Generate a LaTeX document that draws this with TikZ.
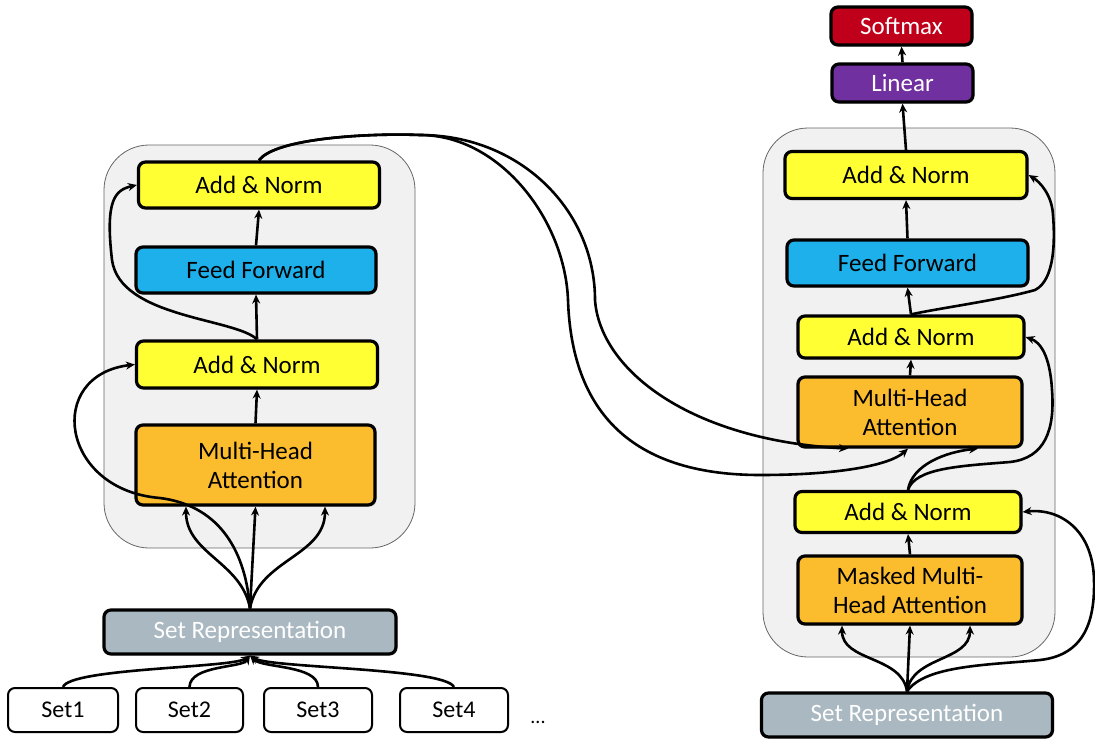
\documentclass[tikz,border=0pt]{standalone}
\usepackage{fontspec}
\setmainfont{Carlito}
\usetikzlibrary{arrows.meta,shadows,calc}

\definecolor{normyellow}{HTML}{FFFF33}
\definecolor{ffblue}{HTML}{1DB0EA}
\definecolor{attorange}{HTML}{FBBC2E}
\definecolor{repgray}{HTML}{AAB9C1}
\definecolor{smred}{HTML}{C0001A}
\definecolor{linpurple}{HTML}{7030A0}
\definecolor{panelfill}{HTML}{F1F1F1}

\begin{document}
\begin{tikzpicture}[x=1pt,y=-1pt,
  block/.style={draw=black, line width=3.2pt, rounded corners=7pt, inner sep=0pt,
    font=\fontsize{25}{29}\selectfont, align=center,
    drop shadow={shadow xshift=1.5pt, shadow yshift=-1.5pt, opacity=0.3}},
  norm/.style={block, fill=normyellow},
  ffwd/.style={block, fill=ffblue},
  attn/.style={block, fill=attorange},
  setrep/.style={block, fill=repgray, text=white},
  setin/.style={draw=black, line width=2pt, rounded corners=7pt, fill=white,
    inner sep=0pt, font=\fontsize{24}{28}\selectfont,
    drop shadow={shadow xshift=1pt, shadow yshift=-1pt, opacity=0.25}},
  panel/.style={draw=gray!80!black, line width=0.8pt, fill=panelfill, rounded corners=45pt, inner sep=0pt},
  conn/.style={line width=2.6pt, -{Stealth[length=9pt,width=8pt]}}
]
\useasboundingbox (0,0) rectangle (1095,739);

% ---------- encoder ----------
\node[panel, minimum width=311pt, minimum height=403pt] (lenc) at (259.5,346.5) {};
\node[norm, minimum width=241pt, minimum height=46pt] (lan2) at (259,185) {Add \& Norm};
\node[ffwd, minimum width=240pt, minimum height=46pt] (lff) at (256,270) {Feed Forward};
\node[norm, minimum width=241pt, minimum height=47pt] (lan1) at (257,364.5) {Add \& Norm};
\node[attn, minimum width=239pt, minimum height=80pt] (lmha) at (255.5,465) {Multi-Head\\Attention};
\node[setrep, minimum width=292pt, minimum height=44pt] (lsr) at (250,632) {Set Representation};

\node[setin, minimum width=110pt, minimum height=44pt] (s1) at (63,710) {Set1};
\node[setin, minimum width=107pt, minimum height=44pt] (s2) at (189.5,710) {Set2};
\node[setin, minimum width=108pt, minimum height=44pt] (s3) at (318,710) {Set3};
\node[setin, minimum width=108pt, minimum height=44pt] (s4) at (454,710) {Set4};
\node[font=\fontsize{20}{24}\selectfont, inner sep=0pt] (dots) at (538,722) {...};

% ---------- decoder ----------
\node[panel, minimum width=292pt, minimum height=529pt] (rdec) at (909,392.5) {};
\node[block, fill=smred, text=white, minimum width=141pt, minimum height=38pt] (smax) at (901.5,26) {Softmax};
\node[block, fill=linpurple, text=white, minimum width=141pt, minimum height=38pt] (lin) at (902.5,83) {Linear};
\node[norm, minimum width=242pt, minimum height=47pt] (ran3) at (906,175) {Add \& Norm};
\node[ffwd, minimum width=241pt, minimum height=46pt] (rff) at (907.5,263) {Feed Forward};
\node[norm, minimum width=226pt, minimum height=42pt] (ran2) at (911,337) {Add \& Norm};
\node[attn, minimum width=224pt, minimum height=70pt] (rmha) at (910,412) {Multi-Head\\Attention};
\node[norm, minimum width=226pt, minimum height=41pt] (ran1) at (908,512) {Add \& Norm};
\node[attn, minimum width=224pt, minimum height=68pt] (rmm) at (910,590) {Masked Multi-\\Head Attention};
\node[setrep, minimum width=291pt, minimum height=44pt] (rsr) at (907,715) {Set Representation};

% ---------- encoder connectors ----------
\draw[conn] (s1.north) .. controls (70,668) and (232,668) .. (lsr.south);
\draw[conn] (s2.north) .. controls (190,665) and (242,668) .. (lsr.south);
\draw[conn] (s3.north) .. controls (318,665) and (262,668) .. (lsr.south);
\draw[conn] (s4.north) .. controls (445,668) and (270,668) .. (lsr.south);

\draw[conn] (lsr.north) to[out=100,in=-90] ([xshift=-69.5pt]lmha.south);
\draw[conn] (lsr.north) -- (lmha.south);
\draw[conn] (lsr.north) to[out=80,in=-90] ([xshift=69.5pt]lmha.south);
\draw[conn] (lsr.north) .. controls (245,545) and (215,505) .. (160,498)
  .. controls (60,490) and (45,375) .. (lan1.west);

\draw[conn] (lmha.north) -- (lan1.south);
\draw[conn] (lan1.north) -- (lff.south);
\draw[conn] (lan1.north) .. controls (235,318) and (120,318) .. (112,260)
  .. controls (105,200) and (115,190) .. (lan2.west);
\draw[conn] (lff.north) -- (lan2.south);

% encoder output into the decoder attention
\draw[conn] (lan2.north) .. controls (275,138) and (370,133) .. (420,135)
  .. controls (520,135) and (595,210) .. (595,300)
  .. controls (600,370) and (690,440) .. ([xshift=-62pt]rmha.south);
\draw[conn] (lan2.north) .. controls (275,138) and (370,133) .. (420,135)
  .. controls (500,135) and (565,220) .. (568,300)
  .. controls (572,420) and (640,475) .. (760,475)
  .. controls (840,475) and (890,465) .. ([xshift=-2pt]rmha.south);

% ---------- decoder connectors ----------
\draw[conn] (rsr.north) to[out=98,in=-90] ([xshift=-68pt]rmm.south);
\draw[conn] (rsr.north) -- (rmm.south);
\draw[conn] (rsr.north) to[out=82,in=-90] ([xshift=60pt]rmm.south);
\draw[conn] (rsr.north) .. controls (925,665) and (990,665) .. (1040,660)
  .. controls (1085,655) and (1095,620) .. (1094,580)
  .. controls (1093,530) and (1060,508) .. (ran1.east);

\draw[conn] (rmm.north) -- (ran1.south);
\draw[conn] (ran1.north) .. controls (912,465) and (945,452) .. ([xshift=68pt]rmha.south);
\draw[conn] (ran1.north) .. controls (915,468) and (960,466) .. (1010,462)
  .. controls (1045,458) and (1055,430) .. (1052,390)
  .. controls (1050,355) and (1040,342) .. (ran2.east);

\draw[conn] (rmha.north) -- (ran2.south);
\draw[conn] (ran2.north) -- (rff.south);
\draw[conn] (ran2.north) .. controls (940,308) and (1000,300) .. (1035,290)
  .. controls (1055,280) and (1055,240) .. (1053,215)
  .. controls (1052,195) and (1040,182) .. (ran3.east);
\draw[conn] (rff.north) -- (ran3.south);
\draw[conn] (ran3.north) -- (lin.south);
\draw[conn] (lin.north) -- (smax.south);
\end{tikzpicture}
\end{document}
